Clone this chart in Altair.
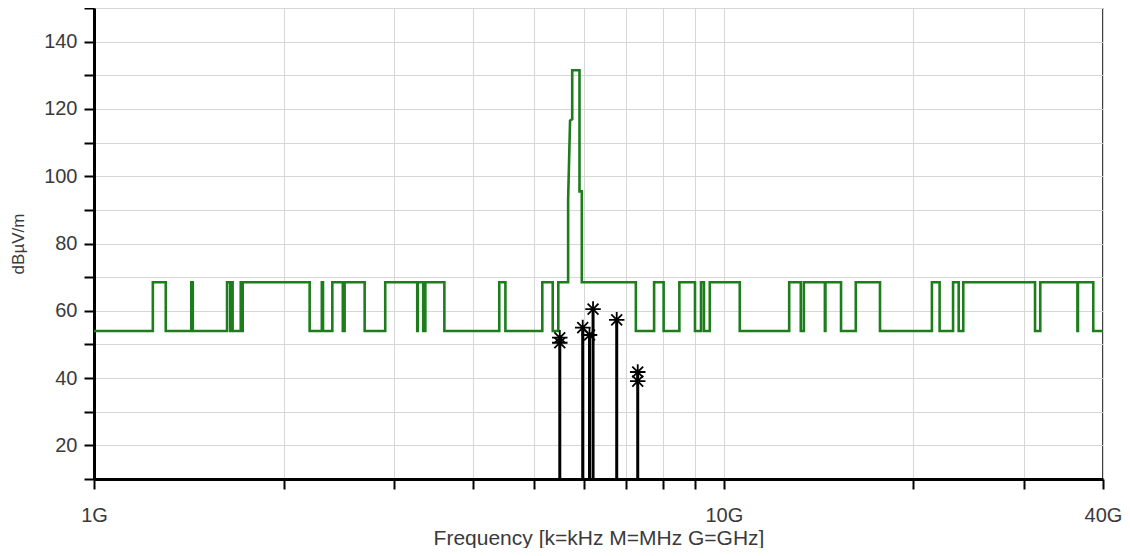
import altair as alt
import pandas as pd

# ---- data (GHz / dBuV/m) ----
LOW_LEVEL = 54.0
HIGH_LEVEL = 68.5
X_MIN, X_MAX = 1.0, 40.0

restricted_start = [0.96, 1.3, 1.435, 1.6455, 1.66, 1.7188, 2.2, 2.31, 2.4835, 2.69,
                    3.26, 3.332, 3.3458, 3.6, 4.5, 5.35, 7.25, 8.025, 9.0, 9.3,
                    10.6, 13.25, 14.47, 15.35, 17.7, 22.01, 23.6, 31.2, 36.43, 38.6]
restricted_end = [1.24, 1.427, 1.6265, 1.6465, 1.71, 1.7222, 2.3, 2.39, 2.5, 2.9,
                  3.267, 3.339, 3.358, 4.4, 5.15, 5.46, 7.75, 8.5, 9.2, 9.5,
                  12.7, 13.4, 14.5, 16.2, 21.4, 23.12, 24.0, 31.8, 36.5, 40.0]

spike_ghz = [5.66, 5.66, 5.70, 5.745, 5.745, 5.90, 5.90, 5.95, 5.95]
spike_db = [68.5, 93.0, 116.5, 117.0, 131.5, 131.5, 95.5, 95.5, 68.5]

peak_ghz = [5.49, 5.97, 6.12, 6.20, 6.76, 7.30]
peak_db = [52.0, 55.0, 52.8, 60.5, 57.3, 41.8]
extra_ghz = [5.49, 7.30]
extra_db = [50.5, 39.1]

x_ticks = [1, 2, 3, 4, 5, 6, 7, 8, 9, 10, 20, 30, 40]
x_labels = {1: "1G", 10: "10G", 40: "40G"}
y_ticks = list(range(10, 151, 10))
y_labels = [20, 40, 60, 80, 100, 120, 140]

# ---- build the limit line vertices ----
bounds = sorted(set([X_MIN, X_MAX] + [max(X_MIN, s) for s in restricted_start] +
                    [min(X_MAX, e) for e in restricted_end]))
bounds = [b for b in bounds if X_MIN <= b <= X_MAX]
fx, fy = [], []
for a, b in zip(bounds[:-1], bounds[1:]):
    mid = (a + b) / 2
    low = any(s <= mid <= e for s, e in zip(restricted_start, restricted_end))
    lvl = LOW_LEVEL if low else HIGH_LEVEL
    fx.append(a); fy.append(lvl)
    if a < spike_ghz[0] < b:
        fx.extend(spike_ghz); fy.extend(spike_db)
    fx.append(b); fy.append(lvl)
limit_df = pd.DataFrame({"f": fx, "db": fy, "order": range(len(fx))})

peaks_df = pd.DataFrame({"f": peak_ghz, "db": peak_db, "base": [10.0] * len(peak_ghz)})
markers_df = pd.DataFrame({"f": peak_ghz + extra_ghz, "db": peak_db + extra_db})

FONT = "Liberation Sans"
TXT = "#3a3a3a"

x_expr = " : ".join(f"datum.value == {k} ? '{v}'" for k, v in x_labels.items()) + " : ''"
y_expr = " || ".join(f"datum.value == {v}" for v in y_labels) + " ? datum.label : ''"

x_enc = alt.X("f:Q",
              scale=alt.Scale(type="log", domain=[X_MIN, X_MAX], nice=False),
              axis=alt.Axis(values=x_ticks, labelExpr=x_expr, tickCount=50,
                            title="Frequency [k=kHz M=MHz G=GHz]",
                            labelFlush=False, labelOverlap=False,
                            labelPadding=16, titlePadding=2))
y_scale = alt.Scale(domain=[10, 150], nice=False)
y_axis = alt.Axis(values=y_ticks, labelExpr=y_expr, format="d", tickCount=50,
                  title="dBµV/m", labelOverlap=False, labelFlush=False,
                  labelPadding=7, titlePadding=16, titleFontSize=17)

limit = alt.Chart(limit_df).mark_line(color="#1d7d1d", strokeWidth=2.6).encode(
    x=x_enc,
    y=alt.Y("db:Q", scale=y_scale, axis=y_axis),
    order="order:Q",
)

stems = alt.Chart(peaks_df).mark_rule(color="black", strokeWidth=3).encode(
    x="f:Q", y="db:Q", y2="base:Q"
)

ASTERISK = "M-1,0H1M0,-1V1M-0.7,-0.7L0.7,0.7M-0.7,0.7L0.7,-0.7"
marks = alt.Chart(markers_df).mark_point(
    shape=ASTERISK, filled=False, color="black", strokeWidth=1.8, size=240, opacity=1
).encode(x="f:Q", y="db:Q")

chart = alt.layer(limit, stems, marks).properties(
    width=1009, height=471,
    autosize=alt.AutoSizeParams(type="none"),
    padding={"left": 86, "top": 0, "right": 19, "bottom": 69},
    background="white",
).configure_view(
    stroke="black", strokeWidth=1.5
).configure_axis(
    grid=True, gridColor="#d6d6d6", gridWidth=1,
    domainColor="black", domainWidth=3,
    tickColor="black", tickWidth=2, tickSize=10,
    labelFont=FONT, labelFontSize=20, labelColor=TXT,
    titleFont=FONT, titleFontSize=21, titleColor=TXT, titleFontWeight="normal",
)

chart.save("out.html", embed_options={"renderer": "svg", "actions": False})
